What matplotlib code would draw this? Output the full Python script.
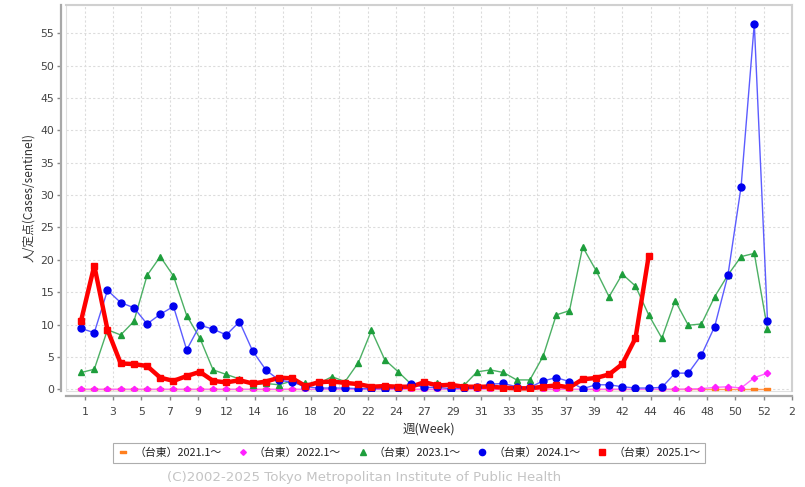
import datetime as dt
import matplotlib
matplotlib.use("Agg")
import matplotlib.pyplot as plt
from matplotlib.lines import Line2D
from matplotlib.patches import Rectangle
from matplotlib.path import Path

plt.rcParams['font.family'] = ['DejaVu Sans', 'Noto Sans CJK JP']

# ---- data ----
weeks = list(range(1, 54))
series_labels = ['（台東）2021.1〜', '（台東）2022.1〜', '（台東）2023.1〜', '（台東）2024.1〜', '（台東）2025.1〜']

y2021 = [0.0] * 53
y2022 = [0.0] * 46 + [0.05, 0.1, 0.3, 0.4, 0.2, 1.8, 2.5]
y2023 = [2.6, 3.1, 9.2, 8.4, 10.5, 17.6, 20.5, 17.5, 11.4, 7.9,
         3.0, 2.3, 1.6, 0.7, 0.9, 0.7, 1.3, 0.9, 0.9, 1.95,
         1.2, 4.1, 9.1, 4.6, 2.75, 0.8, 0.65, 1.0, 0.6, 0.6,
         2.7, 3.0, 2.6, 1.45, 1.45, 5.1, 11.5, 12.15, 22.0, 18.4,
         14.3, 17.8, 15.95, 11.5, 7.9, 13.7, 9.9, 10.1, 14.3, 17.65,
         20.5, 21.0, 9.3]
y2024 = [9.4, 8.75, 15.3, 13.4, 12.6, 10.1, 11.6, 12.8, 6.1, 9.9,
         9.3, 8.4, 10.45, 5.9, 3.0, 1.4, 1.1, 0.4, 0.2, 0.2,
         0.2, 0.1, 0.1, 0.1, 0.2, 0.8, 0.3, 0.3, 0.1, 0.2,
         0.3, 0.8, 0.9, 0.4, 0.3, 1.3, 1.8, 1.2, 0.1, 0.7,
         0.7, 0.4, 0.2, 0.2, 0.3, 2.5, 2.5, 5.3, 9.7, 17.6,
         31.3, 56.5, 10.6]
y2025 = [10.6, 19.1, 9.2, 4.0, 3.9, 3.6, 1.8, 1.3, 2.05, 2.7,
         1.3, 1.07, 1.4, 0.9, 1.2, 1.8, 1.7, 0.5, 1.1, 1.2,
         1.0, 0.8, 0.4, 0.5, 0.4, 0.4, 1.1, 0.6, 0.7, 0.4,
         0.4, 0.4, 0.25, 0.15, 0.15, 0.4, 0.6, 0.3, 1.55, 1.75,
         2.3, 3.9, 7.9, 20.6]

x_tick_labels = ['1', '3', '5', '7', '9', '12', '14', '16', '18', '20', '22', '24', '27',
                 '29', '31', '33', '35', '37', '39', '42', '44', '46', '48', '50', '52', '2']
y_ticks = list(range(0, 60, 5))

# ---- helpers ----
week1_start = dt.date(2024, 12, 30)


def week_dates(n):
    return [week1_start + dt.timedelta(weeks=w - 1) for w in weeks[:n]]


tick_dates = [dt.date(2025, 1, 1) + dt.timedelta(days=15 * k) for k in range(len(x_tick_labels))]

rect_marker = Path([(-1.2, -0.5), (1.2, -0.5), (1.2, 0.5), (-1.2, 0.5), (-1.2, -0.5)],
                   [Path.MOVETO, Path.LINETO, Path.LINETO, Path.LINETO, Path.CLOSEPOLY])

styles = [
    dict(color='#ff7f1e', marker=rect_marker, ms=4.5, lw=1.0),
    dict(color='#ff22ff', marker='D', ms=3.2, lw=1.0),
    dict(color='#1e9e3c', marker='^', ms=5.0, lw=1.0),
    dict(color='#0000ee', marker='o', ms=5.0, lw=1.0),
    dict(color='#ff0000', marker='s', ms=5.0, lw=3.2),
]
line_colors = ['#ff9f5e', '#ff66ff', '#4cb064', '#5c5cff', '#ff0000']

W, H = 805, 487
fig = plt.figure(figsize=(W / 100, H / 100), dpi=100)
L, R, T, B = 66, 792, 5, 391
ax = fig.add_axes([L / W, 1 - B / H, (R - L) / W, (B - T) / H])

all_y = [y2021, y2022, y2023, y2024, y2025]
for ys, st, lc, lab in zip(all_y, styles, line_colors, series_labels):
    xs = week_dates(len(ys))
    ax.plot(xs, ys, color=lc, lw=st['lw'], zorder=3)
    ax.plot(xs, ys, linestyle='none', marker=st['marker'], ms=st['ms'],
            color=st['color'], mec=st['color'], zorder=4)

ax.set_xlim(dt.date(2024, 12, 22) + dt.timedelta(hours=12), dt.date(2026, 1, 11) + dt.timedelta(hours=14))
ax.set_ylim(-0.26, 59.37)
ax.set_xticks(tick_dates)
ax.set_xticklabels(x_tick_labels)
ax.set_yticks(y_ticks)
ax.set_yticklabels([str(v) for v in y_ticks])

ax.grid(True, color='#dcdcdc', linestyle=(0, (2, 2)), linewidth=0.8, zorder=0)
ax.set_axisbelow(True)

for s in ['top', 'right']:
    ax.spines[s].set_color('#d0d0d0')
    ax.spines[s].set_linewidth(1.5)
for s in ['left', 'bottom']:
    ax.spines[s].set_position(('outward', 3.5))
    ax.spines[s].set_color('#a8a8a8')
    ax.spines[s].set_linewidth(1.6)
ax.add_patch(Rectangle((0, 0), 1, 1, transform=ax.transAxes, fill=False,
                       edgecolor='#e0e0e0', linewidth=0.8, zorder=1, clip_on=False))

ax.tick_params(axis='both', colors='#888888', labelcolor='#444444', labelsize=7.8,
               length=3, width=1, direction='out')
ax.tick_params(axis='x', pad=5)
ax.tick_params(axis='y', pad=2)

ax.set_ylabel('人/定点(Cases/sentinel)', fontsize=8.5, color='#333333',
              family=['Noto Sans CJK JP', 'DejaVu Sans'], labelpad=4)
ax.set_xlabel('週(Week)', fontsize=9, color='#333333',
              family=['Noto Sans CJK JP', 'DejaVu Sans'], labelpad=4)

handles = [Line2D([], [], linestyle='none', marker=st['marker'], ms=st['ms'] * 0.9,
                  color=st['color']) for st in styles]
leg = fig.legend(handles, series_labels, loc='center', bbox_to_anchor=(409 / W, 1 - 453 / H),
                 ncol=5, frameon=True, fancybox=False, edgecolor='#999999',
                 prop={'family': ['Noto Sans CJK JP', 'DejaVu Sans'], 'size': 7.8},
                 handlelength=1.0, handletextpad=0.5, columnspacing=1.5,
                 borderpad=0.45, labelcolor='#222222')
leg.get_frame().set_linewidth(0.8)

fig.text(364 / W, 1 - 477 / H, '(C)2002-2025 Tokyo Metropolitan Institute of Public Health',
         ha='center', va='center', fontsize=9.6, color='#c4c4c4', family='DejaVu Sans')

fig.savefig('out.png', dpi=100)
